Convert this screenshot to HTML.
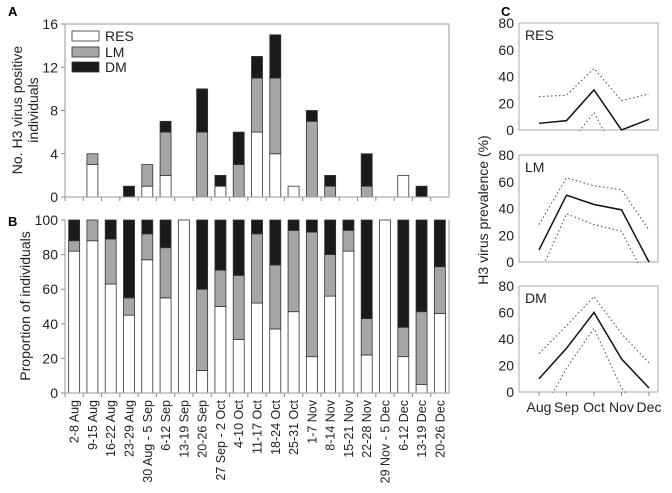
<!DOCTYPE html>
<html><head><meta charset="utf-8"><style>
html,body{margin:0;padding:0;background:#fff;}
svg{display:block;font-family:"Liberation Sans",Arial,sans-serif;}
</style></head><body>
<svg id="fig" width="672" height="493" viewBox="0 0 672 493" xmlns="http://www.w3.org/2000/svg">
<defs>
<clipPath id="c1"><rect x="519" y="20" width="140" height="111"/></clipPath>
<clipPath id="c2"><rect x="519" y="150" width="140" height="113"/></clipPath>
<clipPath id="c3"><rect x="519" y="280" width="140" height="113"/></clipPath>
</defs>
<g id="gA"></g>
<g id="gB"></g>
<g id="gC"></g>
</svg>
<script>
const weeks = ["2-8 Aug","9-15 Aug","16-22 Aug","23-29 Aug","30 Aug - 5 Sep","6-12 Sep","13-19 Sep","20-26 Sep","27 Sep - 2 Oct","4-10 Oct","11-17 Oct","18-24 Oct","25-31 Oct","1-7 Nov","8-14 Nov","15-21 Nov","22-28 Nov","29 Nov - 5 Dec","6-12 Dec","13-19 Dec","20-26 Dec"];
const countRES = [0,3,0,0,1,2,0,0,1,0,6,4,1,0,0,0,0,0,2,0,0];
const countLM  = [0,1,0,0,2,4,0,6,0,3,5,7,0,7,1,0,1,0,0,0,0];
const countDM  = [0,0,0,1,0,1,0,4,1,3,2,4,0,1,1,0,3,0,0,1,0];
const propRES = [82,88,63,45,77,55,100,13,50,31,52,37,47,21,56,82,22,100,21,5,46];
const propLM  = [6,12,26,10,15,29,0,47,21,37,40,37,47,72,24,12,21,0,17,42,27];
const propDM  = [12,0,11,45,8,16,0,40,29,32,8,26,6,7,20,6,57,0,62,53,27];
const ticksA = [0,4,8,12,16];
const ticksB = [0,20,40,60,80,100];
const ticksC = [0,20,40,60,80];
const months = ["Aug","Sep","Oct","Nov","Dec"];
const resMean=[5,7,30,0,8], resUp=[25,26,46,22,27], resLo=[-15,-13,13,-26,-30];
const lmMean=[9,50,43,39,0], lmUp=[28,63,57,54,24], lmLo=[-10,36,28,23,-17];
const dmMean=[10,33,60,25,3], dmUp=[29,50,72,44,22], dmLo=[-20,18,48,3,-20];

const NS="http://www.w3.org/2000/svg";
function mk(parent,tag,attrs,text){const e=document.createElementNS(NS,tag);for(const k in attrs)e.setAttribute(k,attrs[k]);if(text!==undefined)e.textContent=text;parent.appendChild(e);return e;}
const X0=65,X1=449,slot=(X1-X0)/weeks.length,bw=11;
const xc=i=>X0+slot*(i+0.5);
const yA=v=>197-v*(197-24)/16;
const yB=v=>393-v*(393-220)/100;
const colors={RES:"#fff",LM:"#a6a6a6",DM:"#1a1a1a"};

// Panel A
const gA=document.getElementById('gA');
let t=mk(gA,'text',{x:8,y:16,'font-size':13,'font-weight':'bold'},'A');

ticksA.forEach(v=>{let l=mk(gA,'text',{x:58,y:yA(v)+5,'font-size':14,'text-anchor':'end',fill:'#222'},v);

mk(gA,'line',{x1:X0-4,x2:X0,y1:yA(v),y2:yA(v),stroke:'#888'});});
weeks.forEach((w,i)=>{let parts=[["RES",countRES[i]],["LM",countLM[i]],["DM",countDM[i]]];let base=0;
parts.forEach(([k,v])=>{if(v>0){let r=mk(gA,'rect',{x:xc(i)-bw/2,y:yA(base+v),width:bw,height:yA(base)-yA(base+v),fill:colors[k],stroke:'#333','stroke-width':0.8});
base+=v;}});
mk(gA,'line',{x1:X0+slot*i,x2:X0+slot*i,y1:197,y2:201,stroke:'#888'});});
let axA=mk(gA,'rect',{x:X0,y:24,width:X1-X0,height:173,fill:'none',stroke:'#999'});

[["RES",31],["LM",47],["DM",62]].forEach(([k,y])=>{let g=mk(gA,'g',{});

mk(g,'rect',{x:72,y:y,width:27,height:10,fill:colors[k],stroke:'#333','stroke-width':0.8});
mk(g,'text',{x:105,y:y+10,'font-size':14,fill:'#222'},k);});
let yt=mk(gA,'text',{transform:'translate(22,110) rotate(-90)','font-size':14,'text-anchor':'middle',fill:'#222'},'No. H3 virus positive');

let yt2=mk(gA,'text',{transform:'translate(38,110) rotate(-90)','font-size':14,'text-anchor':'middle',fill:'#222'},'individuals');


// Panel B
const gB=document.getElementById('gB');
t=mk(gB,'text',{x:8,y:226,'font-size':13,'font-weight':'bold'},'B');

ticksB.forEach(v=>{let l=mk(gB,'text',{x:58,y:yB(v)+5,'font-size':14,'text-anchor':'end',fill:'#222'},v);

mk(gB,'line',{x1:X0-4,x2:X0,y1:yB(v),y2:yB(v),stroke:'#888'});});
weeks.forEach((w,i)=>{let parts=[["RES",propRES[i]],["LM",propLM[i]],["DM",propDM[i]]];let base=0;
parts.forEach(([k,v])=>{if(v>0){let r=mk(gB,'rect',{x:xc(i)-bw/2,y:yB(base+v),width:bw,height:yB(base)-yB(base+v),fill:colors[k],stroke:'#333','stroke-width':0.8});
base+=v;}});
mk(gB,'line',{x1:X0+slot*i,x2:X0+slot*i,y1:393,y2:397,stroke:'#888'});
let l=mk(gB,'text',{transform:`translate(${xc(i)+4.5},400) rotate(-90)`,'font-size':12.5,'text-anchor':'end',fill:'#222'},w);
});
let axB=mk(gB,'polyline',{points:`${X0},220 ${X0},393 ${X1},393 ${X1},220`,fill:'none',stroke:'#999'});

yt=mk(gB,'text',{transform:'translate(30,306) rotate(-90)','font-size':14,'text-anchor':'middle',fill:'#222'},'Proportion of individuals');


// Panel C
const gC=document.getElementById('gC');
t=mk(gC,'text',{x:501,y:16,'font-size':13,'font-weight':'bold'},'C');

const CX0=519,CX1=658;
const xm=i=>539+i*27.5;
const subs=[["RES",23,130,resMean,resUp,resLo,'c1'],["LM",155,262,lmMean,lmUp,lmLo,'c2'],["DM",286,392,dmMean,dmUp,dmLo,'c3']];
subs.forEach(([name,top,bot,mean,up,lo,clip])=>{
const y=v=>bot-v*(bot-top)/80;
const g=mk(gC,'g',{});

mk(g,'polyline',{points:`${CX0},${top} ${CX0},${bot} ${CX1},${bot} ${CX1},${top} ${CX0},${top}`,fill:'none',stroke:'#aaa'});
ticksC.forEach(v=>{let l=mk(g,'text',{x:514,y:y(v)+5,'font-size':14,'text-anchor':'end',fill:'#222'},v);
});
let n=mk(g,'text',{x:525,y:top+17,'font-size':14,fill:'#222'},name);

const pts=a=>a.map((v,i)=>xm(i)+','+y(v)).join(' ');
let u=mk(g,'polyline',{points:pts(up),fill:'none',stroke:'#555','stroke-width':1.1,'stroke-dasharray':'1.5,2.5','clip-path':`url(#${clip})`});

let lw=mk(g,'polyline',{points:pts(lo),fill:'none',stroke:'#555','stroke-width':1.1,'stroke-dasharray':'1.5,2.5','clip-path':`url(#${clip})`});

let m=mk(g,'polyline',{points:pts(mean),fill:'none',stroke:'#111','stroke-width':1.5});

});
months.forEach((mo,i)=>{mk(gC,'line',{x1:xm(i),x2:xm(i),y1:392,y2:396,stroke:'#888'});
let l=mk(gC,'text',{x:xm(i),y:412,'font-size':14,'text-anchor':'middle',fill:'#222'},mo);
});
yt=mk(gC,'text',{transform:'translate(488,210) rotate(-90)','font-size':14,'text-anchor':'middle',fill:'#222'},'H3 virus prevalence (%)');

</script>
</body></html>
